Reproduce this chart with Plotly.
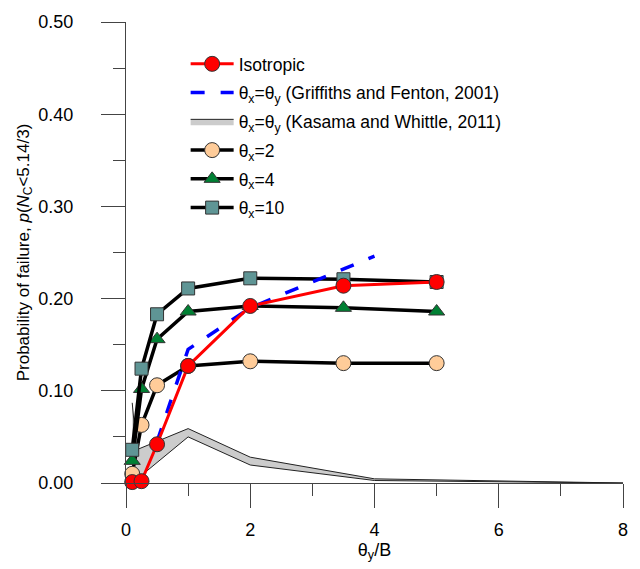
import plotly.graph_objects as go

# ---- data ----
x_pts = [0.1, 0.25, 0.5, 1, 2, 3.5, 5]
iso = [0.001, 0.002, 0.042, 0.127, 0.192, 0.214, 0.218]
tx2 = [0.010, 0.063, 0.106, 0.127, 0.132, 0.130, 0.130]
tx4 = [0.024, 0.102, 0.156, 0.186, 0.192, 0.190, 0.186]
tx10 = [0.036, 0.124, 0.183, 0.211, 0.222, 0.221, 0.218]

gf_x = [0.5, 1, 2, 4]
gf_y = [0.045, 0.145, 0.190, 0.246]

kw_up_x = [0.1, 0.17, 1, 2, 4, 8]
kw_up_y = [0.087, 0.036, 0.059, 0.028, 0.0045, 0.0005]
kw_lo_x = [0.1, 1, 2, 4, 8]
kw_lo_y = [0.0, 0.050, 0.0195, 0.0027, 0.0]

FONT = "Liberation Sans, Arial, sans-serif"

fig = go.Figure()

# Kasama & Whittle band (closed polygon)
band_x = kw_up_x + kw_lo_x[::-1]
band_y = kw_up_y + kw_lo_y[::-1]
fig.add_trace(go.Scatter(
    x=band_x, y=band_y, mode="lines", fill="toself",
    fillcolor="#cccccc", line=dict(color="#222222", width=1),
    name="θ<sub>x</sub>=θ<sub>y</sub> (Kasama and Whittle, 2011)",
    legendrank=3, legendgroup="c"))

fig.add_trace(go.Scatter(
    x=x_pts, y=tx2, mode="lines+markers", name="θ<sub>x</sub>=2",
    line=dict(color="black", width=3.5),
    marker=dict(symbol="circle", size=15, color="#FFCC99", line=dict(color="#333333", width=1)),
    legendrank=4, legendgroup="d", cliponaxis=False))
fig.add_trace(go.Scatter(
    x=x_pts, y=tx4, mode="lines+markers", name="θ<sub>x</sub>=4",
    line=dict(color="black", width=3.5),
    marker=dict(symbol="triangle-up", size=14, color="#008033", line=dict(color="#333333", width=1)),
    legendrank=5, legendgroup="e", cliponaxis=False))
fig.add_trace(go.Scatter(
    x=x_pts, y=tx10, mode="lines+markers", name="θ<sub>x</sub>=10",
    line=dict(color="black", width=3.5),
    marker=dict(symbol="square", size=13, color="#5F9595", line=dict(color="#333333", width=1)),
    legendrank=6, legendgroup="f", cliponaxis=False))

fig.add_trace(go.Scatter(
    x=gf_x, y=gf_y, mode="lines", name="θ<sub>x</sub>=θ<sub>y</sub> (Griffiths and Fenton, 2001)",
    line=dict(color="#0000FF", width=3.5, dash="14px,16px"),
    legendrank=2, legendgroup="b"))

fig.add_trace(go.Scatter(
    x=x_pts, y=iso, mode="lines+markers", name="Isotropic",
    line=dict(color="#FF0000", width=3),
    marker=dict(symbol="circle", size=15, color="#FF0000", line=dict(color="#333333", width=1)),
    legendrank=1, legendgroup="a", cliponaxis=False))

fig.update_layout(
    width=640, height=569,
    margin=dict(l=126, r=12, t=16, b=86),
    paper_bgcolor="white", plot_bgcolor="white",
    font=dict(family=FONT, size=16, color="black"),
    showlegend=True,
    legend=dict(
        x=0.12, y=0.948, xanchor="left", yanchor="top",
        bgcolor="rgba(0,0,0,0)", font=dict(size=17.5, family=FONT),
        itemwidth=43, tracegroupgap=3, traceorder="grouped",
    ),
    xaxis=dict(
        range=[0, 8], tickvals=[0, 2, 4, 6, 8], ticks="outside", ticklen=24,
        tickcolor="#444444", tickwidth=1,
        showline=True, linecolor="#444444", linewidth=1,
        showgrid=False, zeroline=False,
        tickfont=dict(size=18), ticklabelstandoff=6,
        minor=dict(dtick=1, ticks="outside", ticklen=12, tickcolor="#444444", tickwidth=1, showgrid=False),
        title=dict(text="θ<sub>y</sub>/B", font=dict(size=18), standoff=4),
    ),
    yaxis=dict(
        range=[0, 0.5], dtick=0.1, tickformat=".2f", ticks="outside", ticklen=24,
        tickcolor="#444444", tickwidth=1,
        showline=True, linecolor="#444444", linewidth=1,
        showgrid=False, zeroline=False,
        tickfont=dict(size=18), ticklabelstandoff=24,
        minor=dict(dtick=0.05, ticks="outside", ticklen=12, tickcolor="#444444", tickwidth=1, showgrid=False),
        title=dict(text="Probability of failure, <i>p</i>(<i>N</i><sub>C</sub>&lt;5.14/3)", font=dict(size=17), standoff=4),
    ),
)

fig.write_html("out.html")
